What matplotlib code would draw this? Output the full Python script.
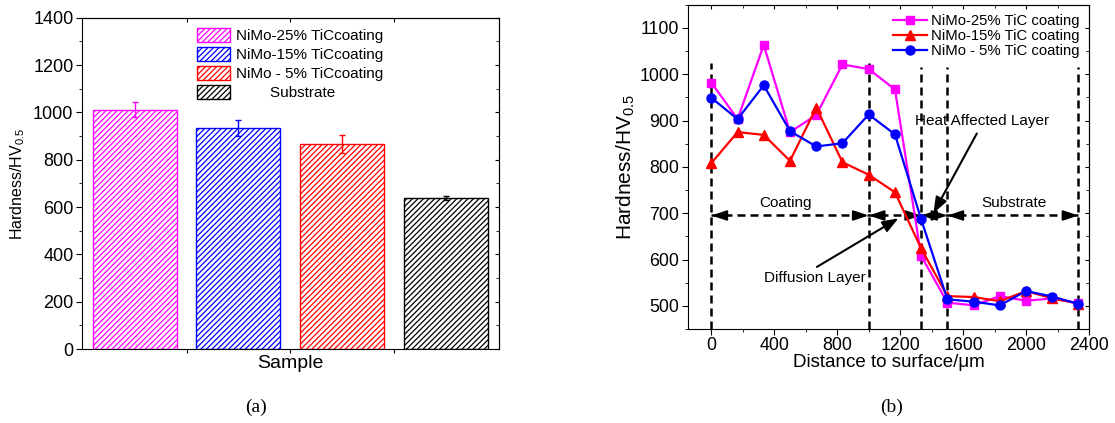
import matplotlib
matplotlib.use('Agg')
import matplotlib.pyplot as plt
from matplotlib.ticker import MultipleLocator, NullFormatter, FixedLocator

plt.rcParams['font.family'] = ['Liberation Sans', 'DejaVu Sans']
plt.rcParams['mathtext.fontset'] = 'custom'
plt.rcParams['mathtext.rm'] = 'Liberation Sans'
plt.rcParams['mathtext.it'] = 'Liberation Sans:italic'
plt.rcParams['hatch.linewidth'] = 0.9

# ---------------- data: panel (a) ----------------
bar_labels = ['NiMo-25% TiCcoating', 'NiMo-15% TiCcoating', 'NiMo - 5% TiCcoating', 'Substrate']
bar_values = [1012, 933, 868, 639]
bar_errors = [31, 33, 38, 8]
bar_colors = ['#FF00FF', '#0000FF', '#FF0000', '#000000']

# ---------------- data: panel (b) ----------------
distance = [0, 167, 333, 500, 667, 833, 1000, 1167, 1333, 1500, 1667, 1833, 2000, 2167, 2333]
hv_25 = [982, 903, 1063, 875, 912, 1021, 1011, 967, 608, 507, 501, 521, 511, 516, 506]
hv_15 = [808, 875, 869, 813, 928, 810, 783, 745, 624, 521, 519, 510, 532, 516, 505]
hv_5 = [949, 903, 976, 877, 844, 851, 913, 870, 687, 514, 509, 501, 532, 520, 504]
line_labels = ['NiMo-25% TiC coating', 'NiMo-15% TiC coating', 'NiMo - 5% TiC coating']
line_colors = ['#FF00FF', '#FF0000', '#0000FF']
line_markers = ['s', '^', 'o']
layer_bounds = [0, 1000, 1333, 1500, 2333]
layer_tops = [1024, 1024, 1016, 1016, 1016]
arrow_level = 695

fig = plt.figure(figsize=(11.15, 4.23), dpi=100)

# ================= panel (a) =================
axa = fig.add_axes([0.0733, 0.1749, 0.3742, 0.7833])
xpos = list(range(1, len(bar_values) + 1))
for i, (x, v, e, c, lab) in enumerate(zip(xpos, bar_values, bar_errors, bar_colors, bar_labels)):
    disp = lab if lab != 'Substrate' else '        ' + lab
    axa.bar(x, v, width=0.81, color='white', edgecolor=c, hatch='//////',
            linewidth=1.0, label=disp, zorder=2)
    axa.errorbar(x, v, yerr=e, color=c, capsize=2.5, elinewidth=1.0,
                 capthick=1.0, fmt='none', zorder=3)
axa.set_xlim(0.49, 4.51)
axa.set_ylim(0, 1400)
axa.yaxis.set_major_locator(MultipleLocator(200))
axa.yaxis.set_minor_locator(MultipleLocator(100))
axa.xaxis.set_major_locator(FixedLocator([1.5, 2.5, 3.5]))
axa.xaxis.set_major_formatter(NullFormatter())
axa.tick_params(axis='y', which='major', direction='out', length=4, labelsize=13, pad=2)
axa.tick_params(axis='y', which='minor', direction='out', length=2)
axa.tick_params(axis='x', which='major', direction='out', length=3)
sa = axa.secondary_yaxis('right')
sa.yaxis.set_major_locator(MultipleLocator(200))
sa.yaxis.set_minor_locator(MultipleLocator(100))
sa.tick_params(which='both', direction='in', labelright=False, length=3)
sa.tick_params(which='minor', length=2)
ta = axa.secondary_xaxis('top')
ta.xaxis.set_major_locator(FixedLocator([1.5, 2.5, 3.5]))
ta.tick_params(direction='in', labeltop=False, length=3)
axa.set_ylabel('Hardness/HV$_{\\mathregular{0.5}}$', fontsize=11.5, labelpad=4)
axa.set_xlabel('Sample', fontsize=14, labelpad=-2)
axa.legend(loc='upper left', bbox_to_anchor=(0.276, 0.970), frameon=False,
           fontsize=11, handlelength=2.2, handleheight=1.05, handletextpad=0.35,
           labelspacing=0.24, borderpad=0, borderaxespad=0)

# ================= panel (b) =================
axb = fig.add_axes([0.6168, 0.2222, 0.3599, 0.7667])
axb.set_xlim(-150, 2400)
axb.set_ylim(450, 1150)
dash = (0, (3.2, 2.0))
axb.vlines(layer_bounds, 450, layer_tops, colors='k', linestyles=dash, linewidth=1.8, zorder=1)
axb.plot([layer_bounds[0], layer_bounds[-1]], [arrow_level, arrow_level], color='k',
         linestyle=dash, linewidth=1.8, zorder=1)
head = dict(arrowstyle='-|>,head_length=0.9,head_width=0.3', color='k', lw=1.5,
            mutation_scale=10, shrinkA=0, shrinkB=0)
for b0, b1 in zip(layer_bounds[:-1], layer_bounds[1:]):
    axb.annotate('', xy=(b0, arrow_level), xytext=(9, 0), textcoords='offset points',
                 arrowprops=head, zorder=2)
    axb.annotate('', xy=(b1, arrow_level), xytext=(-9, 0), textcoords='offset points',
                 arrowprops=head, zorder=2)

series = [hv_25, hv_15, hv_5]
for ys, c, m, lab in zip(series, line_colors, line_markers, line_labels):
    ms = {'s': 5.5, '^': 6.5, 'o': 6.5}[m]
    axb.plot(distance, ys, color=c, marker=m, markersize=ms, linewidth=1.6,
             label=lab, zorder=3)

axb.text(474, 722, 'Coating', ha='center', va='center', fontsize=11)
axb.text(1926, 721, 'Substrate', ha='center', va='center', fontsize=11)
axb.text(1723, 900, 'Heat Affected Layer', ha='center', va='center', fontsize=11)
axb.text(656, 561, 'Diffusion Layer', ha='center', va='center', fontsize=11)
arr = dict(arrowstyle='-|>,head_length=0.8,head_width=0.3', color='k', lw=1.5,
           mutation_scale=12, shrinkA=0, shrinkB=0)
axb.annotate('', xy=(1411, 700), xytext=(1687, 872), arrowprops=arr, zorder=4)
axb.annotate('', xy=(1189, 689), xytext=(671, 584), arrowprops=arr, zorder=4)

axb.xaxis.set_major_locator(MultipleLocator(400))
axb.xaxis.set_minor_locator(MultipleLocator(200))
axb.yaxis.set_major_locator(MultipleLocator(100))
axb.yaxis.set_minor_locator(MultipleLocator(50))
axb.tick_params(which='major', direction='out', length=4, labelsize=12.8, pad=2)
axb.tick_params(which='minor', direction='out', length=2)
sb = axb.secondary_yaxis('right')
sb.yaxis.set_major_locator(MultipleLocator(100))
sb.yaxis.set_minor_locator(MultipleLocator(50))
sb.tick_params(which='both', direction='in', labelright=False, length=3)
sb.tick_params(which='minor', length=2)
tb = axb.secondary_xaxis('top')
tb.xaxis.set_major_locator(MultipleLocator(400))
tb.xaxis.set_minor_locator(MultipleLocator(200))
tb.tick_params(which='both', direction='in', labeltop=False, length=3)
tb.tick_params(which='minor', length=2)
axb.set_ylabel('Hardness/HV$_{\\mathregular{0.5}}$', fontsize=15, labelpad=2)
axb.set_xlabel('Distance to surface/\u03bcm', fontsize=13.5, labelpad=0)
axb.legend(loc='upper left', bbox_to_anchor=(0.5116, 0.972), frameon=False,
           fontsize=10.7, handlelength=2.3, handletextpad=0.25, labelspacing=0.08,
           borderpad=0, borderaxespad=0)

fig.text(256 / 1115, 1 - 407 / 423, '(a)', family='Liberation Serif', fontsize=14,
         ha='center', va='center')
fig.text(892 / 1115, 1 - 407 / 423, '(b)', family='Liberation Serif', fontsize=14,
         ha='center', va='center')

fig.savefig('out.png', dpi=100)
